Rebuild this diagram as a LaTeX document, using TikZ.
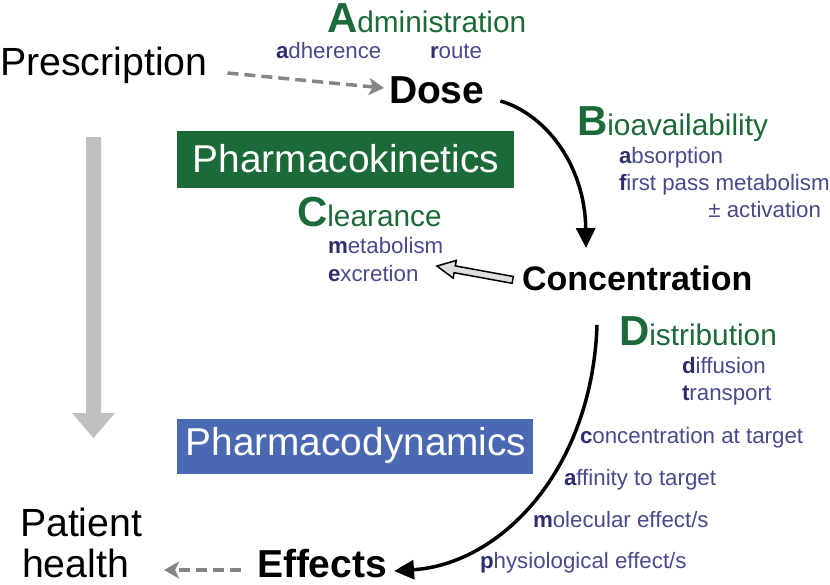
\documentclass[tikz,border=0pt]{standalone}
\usepackage{fontspec}
\setmainfont{Liberation Sans}
\usetikzlibrary{arrows.meta,calc}
\definecolor{pkgreen}{HTML}{1C6A39}
\definecolor{pdblue}{HTML}{4B68B2}
\definecolor{subblue}{HTML}{484A8C}
\definecolor{subdark}{HTML}{2D2E6E}
\definecolor{dashgray}{HTML}{858585}
\definecolor{flowgray}{HTML}{C0C0C0}
\newcommand{\catinit}[1]{{\fontsize{42}{42}\selectfont\bfseries #1}}
\newcommand{\subinit}[1]{{\bfseries\color{subdark}#1}}
\tikzset{
  every node/.style={inner sep=0pt, outer sep=0pt},
  plaintext/.style={anchor=base west, font=\fontsize{39.3}{41}\selectfont},
  boldtext/.style={anchor=base west, font=\fontsize{39}{41}\selectfont\bfseries},
  catword/.style={anchor=base west, text=pkgreen, font=\fontsize{29.8}{31}\selectfont},
  subitem/.style={anchor=base west, text=subblue, font=\fontsize{22.3}{24}\selectfont},
  boxtext/.style={anchor=base, text=white, font=\fontsize{38.8}{40}\selectfont},
  dasharrow/.style={draw=dashgray, line width=3.5pt, dash pattern=on 11pt off 6pt,
    -{Stealth[length=15pt,width=17pt,inset=4pt]}},
  bigarrow/.style={draw=black, line width=3.5pt, -{Triangle[length=20pt,width=19pt]}}
}
\begin{document}
\begin{tikzpicture}[x=1pt,y=-1pt]
\useasboundingbox (0,0) rectangle (830,584);

% flow arrow
\fill[flowgray] (86,137) -- (101,137) -- (101,413) -- (115,413) -- (93.5,438)
  -- (72,413) -- (86,413) -- cycle;

% main words
\node[plaintext] (presc) at (0,75) {Prescription};
\node[boldtext] (dose) at (389,103) {Dose};
\node[boldtext, font=\fontsize{34}{36}\selectfont\bfseries] (conc) at (522,290) {Concentration};
\node[boldtext] (effects) at (257,577) {Effects};
\node[plaintext] (patient) at (20,536) {Patient};
\node[plaintext] (health) at (22,577) {health};

% boxes
\node[fill=pkgreen, minimum width=337pt, minimum height=57pt, anchor=north west] (pkbox) at (177,131) {};
\node[boxtext] (pklabel) at (346,172) {Pharmacokinetics};
\node[fill=pdblue, minimum width=356pt, minimum height=55pt, anchor=north west] (pdbox) at (177,419) {};
\node[boxtext] (pdlabel) at (356,455) {Pharmacodynamics};

% Administration
\node[catword] (admin) at (327,32) {\catinit{A}dministration};
\node[subitem] (adher) at (276,58) {\subinit{a}dherence};
\node[subitem] (route) at (430,58) {\subinit{r}oute};

% Bioavailability
\node[catword] (bio) at (577,135) {\catinit{B}ioavailability};
\node[subitem] (absorp) at (619,163) {\subinit{a}bsorption};
\node[subitem] (fpm) at (619,190) {\subinit{f}irst pass metabolism};
\node[subitem, anchor=base east] (activ) at (821,217) {± activation};

% Clearance
\node[catword] (clear) at (297,226) {\catinit{C}learance};
\node[subitem] (metab) at (328,253) {\subinit{m}etabolism};
\node[subitem] (excr) at (328,281) {\subinit{e}xcretion};

% Distribution
\node[catword] (distr) at (619,345) {\catinit{D}istribution};
\node[subitem] (diffu) at (682,373) {\subinit{d}iffusion};
\node[subitem] (transp) at (682,400) {\subinit{t}ransport};

% Pharmacodynamics items
\node[subitem] (cat) at (580,443) {\subinit{c}oncentration at target};
\node[subitem] (aff) at (564,485) {\subinit{a}ffinity to target};
\node[subitem] (mol) at (533,527) {\subinit{m}olecular effect/s};
\node[subitem] (phys) at (480,568) {\subinit{p}hysiological effect/s};

% connectors
\draw[dasharrow] ($(presc.base east)+(20,-2)$) -- ($(dose.base west)+(-5,-15)$);
\draw[dasharrow] ($(effects.base west)+(-16,-7)$) -- ($(health.base east)+(35,-7)$);

\coordinate (d1) at ($(dose.base east)+(16,-2)$);
\coordinate (c1) at ($(conc.base west)+(64,-42)$);
\draw[bigarrow] (d1) .. controls ($(d1)+(45,13)$) and ($(c1)+(-1,-83)$) .. (c1);

\coordinate (c2) at ($(conc.base west)+(75,35)$);
\coordinate (e1) at ($(effects.base east)+(7,-6)$);
\draw[bigarrow] (c2) .. controls ($(c2)+(-5,145)$) and ($(e1)+(107,-7)$) .. (e1);

% hollow clearance arrow
\draw[fill=gray!25, line width=1.5pt, line join=miter]
  (437,266) -- (456.3,260.4) -- (455.3,265.9) -- (513.3,276.5) -- (512.1,283.3)
  -- (454.1,272.7) -- (453.1,278.1) -- cycle;
\end{tikzpicture}
\end{document}
